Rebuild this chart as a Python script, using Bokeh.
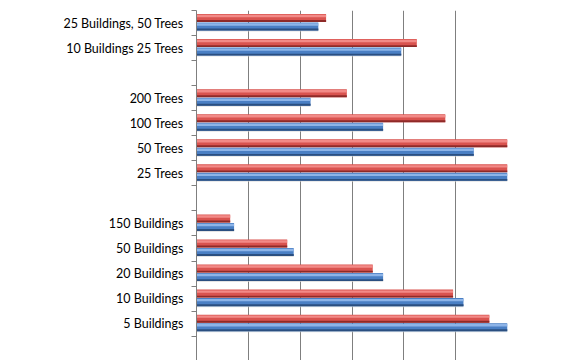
from bokeh.plotting import figure
from bokeh.models import Range1d, FixedTicker
from bokeh.embed import file_html
from bokeh.resources import INLINE

# categories from bottom to top ("" = empty slot)
categories = ["5 Buildings", "10 Buildings", "20 Buildings", "50 Buildings", "150 Buildings",
              "", "25 Trees", "50 Trees", "100 Trees", "200 Trees",
              "", "10 Buildings 25 Trees", "25 Buildings, 50 Trees"]
red_values = [113, 99, 68, 35, 13, None, 120, 120, 96, 58, None, 85, 50]
blue_values = [120, 103, 72, 37.5, 14.5, None, 120, 107, 72, 44, None, 79, 47]
x_max = 120
grid_step = 20

idx = [i for i in range(len(categories)) if red_values[i] is not None]
ys = [float(i) for i in idx]
reds = [red_values[i] for i in idx]
blues = [blue_values[i] for i in idx]

p = figure(width=580, height=360, output_backend="svg", toolbar_location=None,
           x_range=Range1d(0, x_max), y_range=Range1d(-1.47, len(categories) - 0.5),
           min_border_left=196, min_border_right=73, min_border_top=10, min_border_bottom=0)
p.outline_line_color = None
p.background_fill_color = "white"

# grid
p.xgrid.ticker = FixedTicker(ticks=list(range(0, x_max + 1, grid_step)))
p.xgrid.grid_line_color = "#7f7f7f"
p.xgrid.grid_line_width = 1
p.ygrid.grid_line_color = None
p.xaxis.visible = False

# y axis: labels at centers, tick marks at boundaries
yax = p.yaxis[0]
yax.ticker = FixedTicker(ticks=list(range(len(categories))),
                         minor_ticks=[i - 0.5 for i in range(len(categories) + 1)])
yax.major_label_overrides = {i: c for i, c in enumerate(categories)}
yax.major_tick_out = 0
yax.major_tick_in = 0
yax.minor_tick_out = 5
yax.minor_tick_in = 0
yax.minor_tick_line_color = "#7f7f7f"
yax.axis_line_color = "#7f7f7f"
yax.major_label_standoff = 8
yax.major_label_text_font = "Lato"
yax.major_label_text_font_size = "12.5px"
yax.major_label_text_color = "#000000"

h = 0.32
red_y = [y + 0.2 for y in ys]
blue_y = [y - 0.14 for y in ys]

# shadow under bars
p.hbar(y=[y - 0.14 for y in blue_y], left=0, right=blues, height=0.12, fill_color="#d9d9d9",
       line_color=None, fill_alpha=0.7)

def bar(yc, vals, main, light, dark):
    p.hbar(y=yc, left=0, right=vals, height=h, fill_color=main, line_color=None)
    p.hbar(y=[y + h * 0.25 for y in yc], left=0, right=vals, height=h * 0.3,
           fill_color=light, line_color=None)
    p.hbar(y=[y - h * 0.38 for y in yc], left=0, right=vals, height=h * 0.24,
           fill_color=dark, line_color=None)

bar(red_y, reds, "#d9534f", "#f28a87", "#8e2a28")
bar(blue_y, blues, "#4a7fc4", "#8db4e8", "#2b4f80")

open("out.html", "w").write(file_html(p, INLINE))
